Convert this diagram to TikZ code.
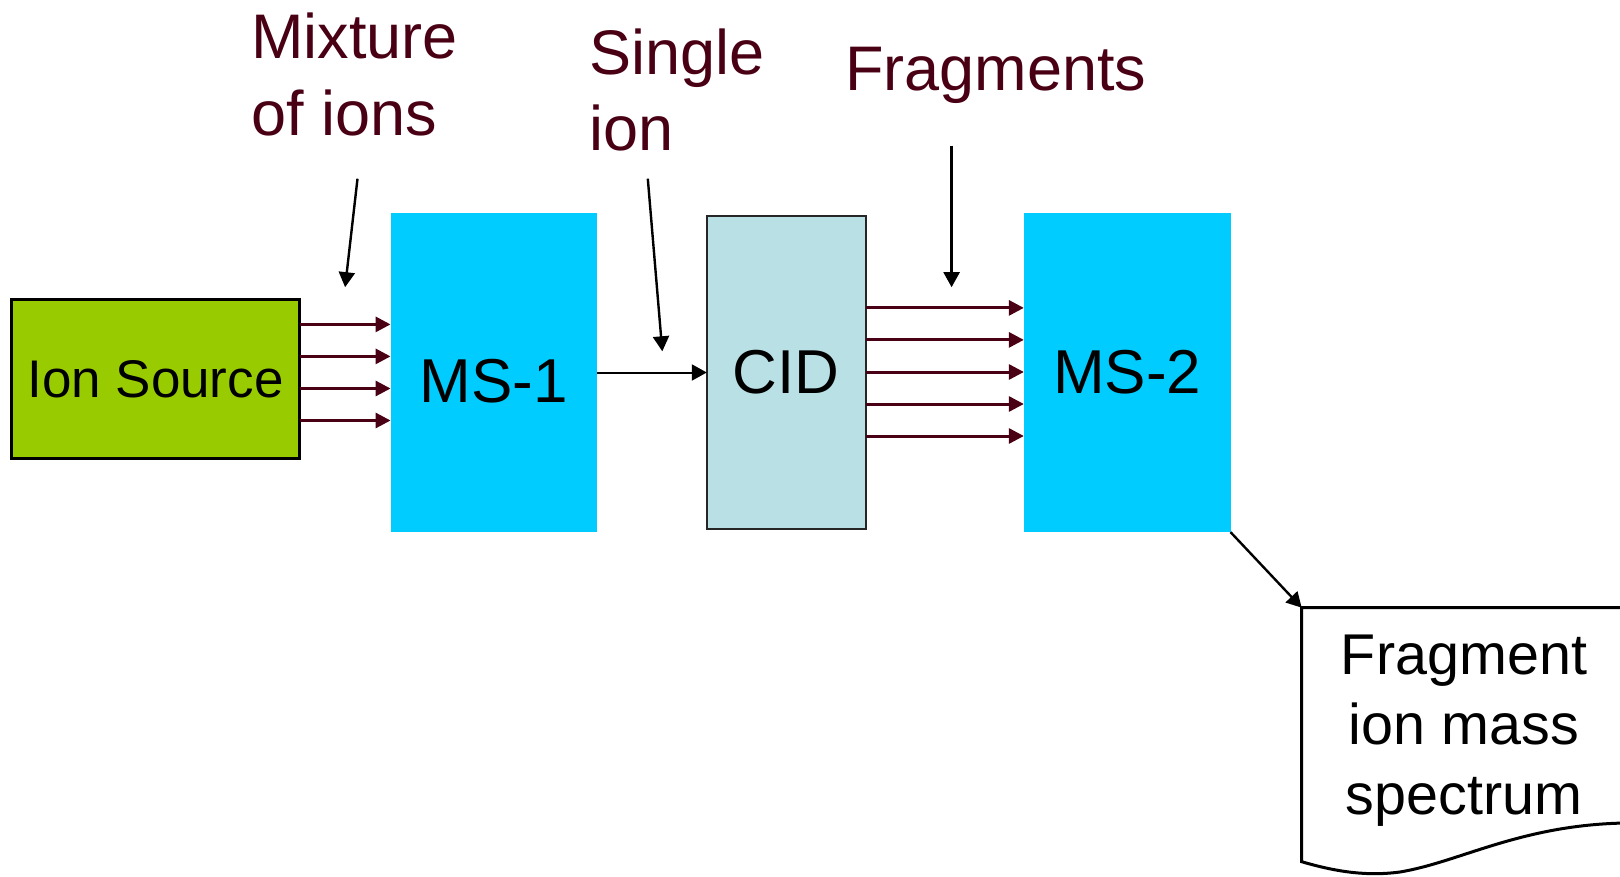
\documentclass[tikz,border=0pt]{standalone}
\usepackage{fontspec}
\setmainfont{Liberation Sans}
\usetikzlibrary{arrows.meta}
\definecolor{labelmaroon}{RGB}{74,0,20}
\definecolor{srcgreen}{RGB}{153,204,0}
\definecolor{mscyan}{RGB}{0,204,255}
\definecolor{cidfill}{RGB}{185,224,229}
\begin{document}
\begin{tikzpicture}[x=1pt,y=-1pt,
  box/.style={inner sep=0pt, outer sep=0pt},
  boxfont/.style={font=\fontsize{62}{74}\selectfont},
  lbl/.style={text=labelmaroon, font=\fontsize{63}{76.5}\selectfont, align=left, anchor=base west, inner sep=0pt},
  beam/.style={draw=labelmaroon, line width=3pt, -{Triangle[length=15pt,width=15pt]}},
  pointer/.style={draw=black, line width=2.4pt, -{Triangle[length=15pt,width=16pt]}},
]
\useasboundingbox (0,0) rectangle (1620,877);
\clip (0,0) rectangle (1620,877);

% boxes
\node[box, fill=srcgreen, draw=black, line width=2.5pt, minimum width=288pt, minimum height=159pt,
      font=\fontsize{53}{64}\selectfont] (src) at (155.5,379.2) {Ion Source};
\node[box, boxfont, fill=mscyan, minimum width=206.7pt, minimum height=319.3pt] (ms1) at (493.9,372.5)
      {\raisebox{-8pt}[\height][0pt]{MS-1}};
\node[box, boxfont, fill=cidfill, draw=black!85, line width=2pt, minimum width=159pt, minimum height=313pt] (cid) at (786.3,372.5) {CID};
\node[box, boxfont, fill=mscyan, minimum width=206.7pt, minimum height=319.3pt] (ms2) at (1127.2,372.5) {MS-2};

% ion beams
\foreach \y in {324.4,356.4,388.5,420.5}
  \draw[beam] (src.east |- 0,\y) -- (ms1.west |- 0,\y);
\draw[pointer, line width=2pt] (ms1.east) -- (cid.west);
\foreach \y in {307.9,339.9,372,404,436}
  \draw[beam] (cid.east |- 0,\y) -- (ms2.west |- 0,\y);

% labels (anchor = baseline of last line)
\node[lbl] (mix) at (251,135.4) {Mixture\\of ions};
\node[lbl] (single) at (589,150.8) {Single\\ion};
\node[lbl] (frag) at (845,90.9) {Fragments};

\coordinate (mixtail) at (357.5,178.7);
\coordinate (mixtip) at (345.1,287.2);
\coordinate (singletail) at (647.8,178.7);
\coordinate (singletip) at (662.3,351.3);
\coordinate (fragtail) at (951.6,145.7);
\coordinate (fragtip) at (951.6,287.2);
\draw[pointer] (mixtail) -- (mixtip);
\draw[pointer] (singletail) -- (singletip);
\draw[pointer] (fragtail) -- (fragtip);

% document shape
\coordinate (doc) at (1301.7,607.7);
\draw[line width=3pt, fill=white] (1645,607.7) -- (doc) -- (1301.7,861.7)
  .. controls (1340,873) and (1370,876) .. (1400,872)
  .. controls (1460,862) and (1520,825) .. (1625,823) -- (1645,823);
\node[font=\fontsize{57.5}{70}\selectfont, align=center, anchor=base, inner sep=0pt] (spec) at (1464,814)
  {Fragment\\ion mass\\spectrum};
\draw[pointer] (ms2.south east) -- (doc);
\end{tikzpicture}
\end{document}
